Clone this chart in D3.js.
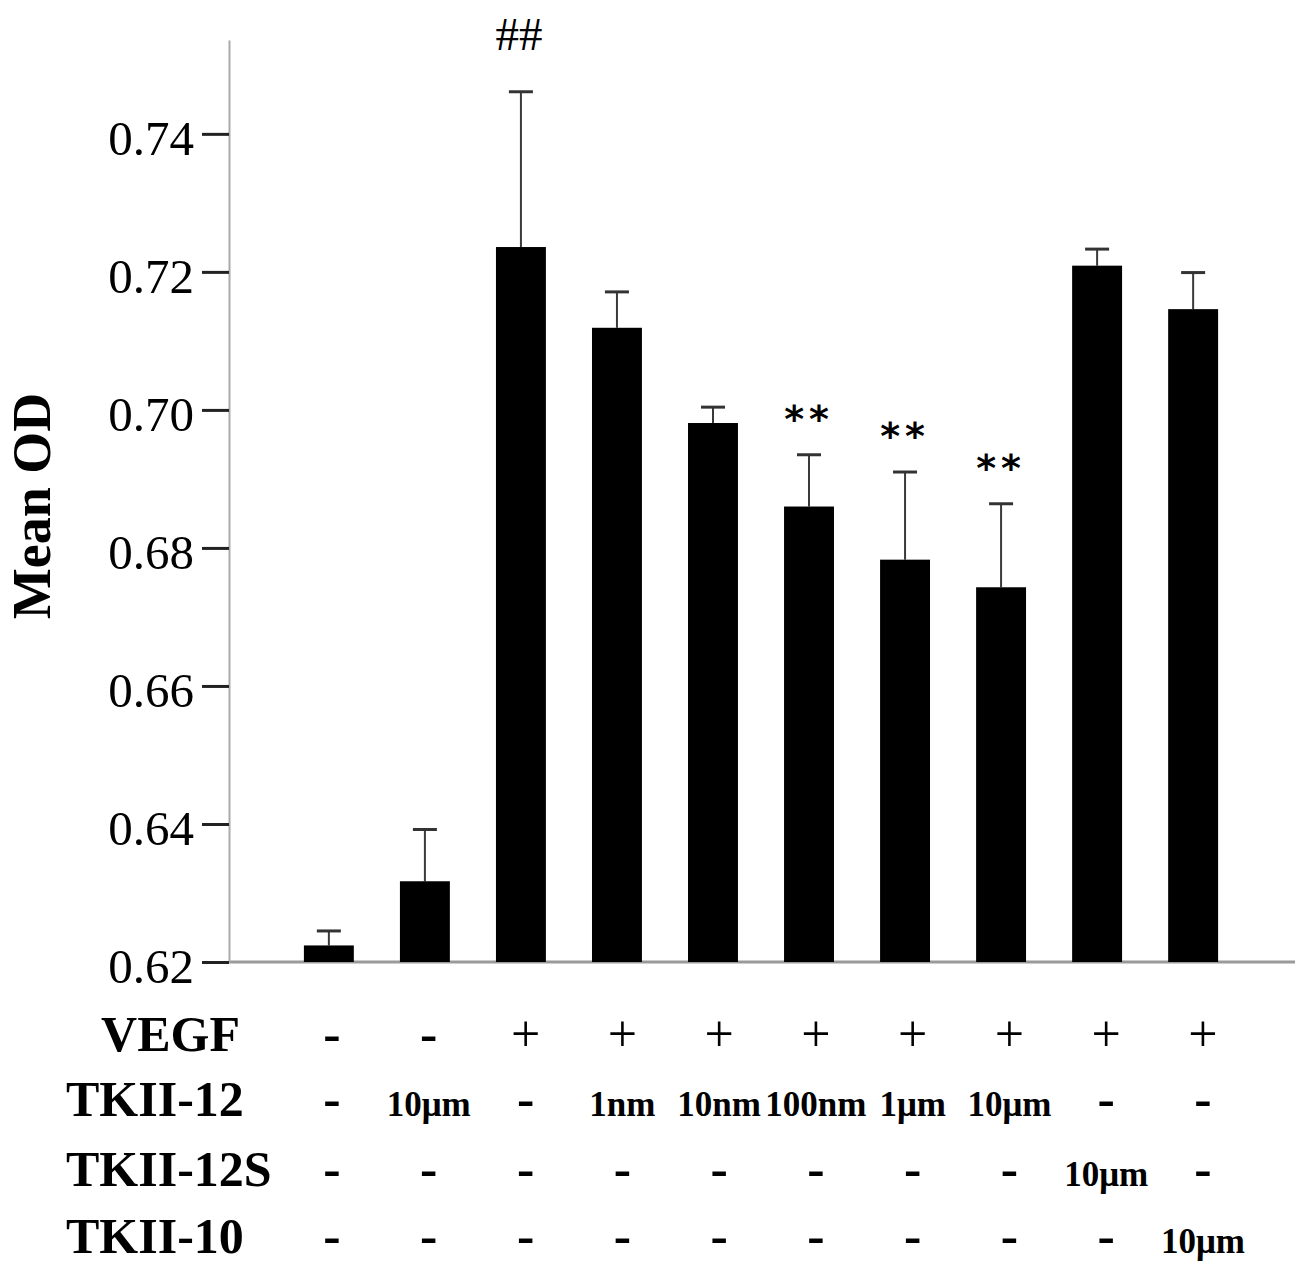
<!DOCTYPE html>
<html>
<head>
<meta charset="utf-8">
<script src="https://cdn.jsdelivr.net/npm/d3@7"></script>
<style>
body { margin: 0; background: #fff; }
svg { display: block; font-family: "Liberation Serif", "Times New Roman", serif; }
</style>
</head>
<body>
<svg width="1299" height="1265"></svg>
<script>
// groups, left to right
var groups = ["Control", "TKII-12 10μm", "VEGF", "VEGF+TKII-12 1nm", "VEGF+TKII-12 10nm",
  "VEGF+TKII-12 100nm", "VEGF+TKII-12 1μm", "VEGF+TKII-12 10μm", "VEGF+TKII-12S 10μm", "VEGF+TKII-10 10μm"];
var meanOD = [0.6224, 0.6317, 0.7236, 0.7119, 0.6981, 0.6860, 0.6783, 0.6743, 0.7209, 0.7146];
var errOD  = [0.0021, 0.0075, 0.0225, 0.0052, 0.0023, 0.0075, 0.0127, 0.0121, 0.0024, 0.0053];
var marks  = ["", "", "##", "", "", "**", "**", "**", "", ""];
var yTicks = [0.62, 0.64, 0.66, 0.68, 0.70, 0.72, 0.74];

// treatment table under the chart
var rowNames = ["VEGF", "TKII-12", "TKII-12S", "TKII-10"];
var vegf    = ["-", "-", "+", "+", "+", "+", "+", "+", "+", "+"];
var tkii12  = ["-", "10μm", "-", "1nm", "10nm", "100nm", "1μm", "10μm", "-", "-"];
var tkii12s = ["-", "-", "-", "-", "-", "-", "-", "-", "10μm", "-"];
var tkii10  = ["-", "-", "-", "-", "-", "-", "-", "-", "-", "10μm"];
var rows = [vegf, tkii12, tkii12s, tkii10];

var svg = d3.select('svg');
var axisX = 229, plotTop = 40, plotBase = 962;

var x = d3.scaleBand()
  .domain(groups)
  .range([axisX, 1293])
  .paddingInner(0.48)
  .paddingOuter(0.78);

var y = d3.scaleLinear()
  .domain([0.62, 0.7536])
  .range([plotBase, plotTop]);

// x axis line
svg.append('line')
  .attr('x1', axisX).attr('x2', 1295)
  .attr('y1', plotBase).attr('y2', plotBase)
  .attr('stroke', '#9a9a9a')
  .attr('stroke-width', 3);

// y axis
var yAxis = svg.append('g')
  .attr('transform', 'translate(' + axisX + ',0)')
  .call(d3.axisLeft(y).tickValues(yTicks).tickFormat(d3.format('.2f'))
    .tickSize(27).tickSizeOuter(0).tickPadding(8));
yAxis.select('.domain').attr('stroke', '#aaa').attr('stroke-width', 2);
yAxis.selectAll('.tick line').attr('stroke', '#222').attr('stroke-width', 3);
yAxis.selectAll('.tick text')
  .attr('font-size', 49)
  .attr('font-family', '"Liberation Serif", "Times New Roman", serif')
  .attr('fill', '#000')
  .attr('dy', '0.42em');

svg.append('text')
  .attr('transform', 'translate(50,506) rotate(-90)')
  .attr('text-anchor', 'middle')
  .attr('font-size', 54)
  .attr('font-weight', 'bold')
  .text('Mean OD');

// error bars
var cx = function(d, i) { return x(groups[i]) + x.bandwidth() / 2; };

svg.selectAll('.err').data(meanOD).enter().append('line')
  .attr('class', 'err')
  .attr('x1', cx).attr('x2', cx)
  .attr('y1', function(d) { return y(d); })
  .attr('y2', function(d, i) { return y(d + errOD[i]); })
  .attr('stroke', '#3a3a3a')
  .attr('stroke-width', 2);

svg.selectAll('.cap').data(meanOD).enter().append('line')
  .attr('class', 'cap')
  .attr('x1', function(d, i) { return cx(d, i) - 12; })
  .attr('x2', function(d, i) { return cx(d, i) + 12; })
  .attr('y1', function(d, i) { return y(d + errOD[i]); })
  .attr('y2', function(d, i) { return y(d + errOD[i]); })
  .attr('stroke', '#333')
  .attr('stroke-width', 3);

// bars
svg.selectAll('.bar').data(meanOD).enter().append('rect')
  .attr('class', 'bar')
  .attr('x', function(d, i) { return x(groups[i]); })
  .attr('y', function(d) { return y(d); })
  .attr('width', x.bandwidth())
  .attr('height', function(d) { return y(0.62) - y(d); })
  .attr('fill', '#000');

// significance marks
svg.selectAll('.mark').data(marks).enter().append('text')
  .attr('class', 'mark')
  .attr('x', function(d, i) { return cx(d, i) - (d == '##' ? 2 : 0); })
  .attr('y', function(d, i) {
    var t = y(meanOD[i] + errOD[i]);
    return d == '##' ? t - 42 : t - 23;
  })
  .attr('text-anchor', 'middle')
  .attr('font-family', function(d) { return d == '##' ? null : '"DejaVu Sans", sans-serif'; })
  .attr('font-size', function(d) { return d == '##' ? 47 : 38; })
  .attr('font-weight', function(d) { return d == '##' ? 'normal' : 'bold'; })
  .attr('letter-spacing', function(d) { return d == '##' ? 0 : 5; })
  .text(function(d) { return d; });

// treatment table
var colX = d3.scalePoint().domain(d3.range(10)).range([332, 1203]);
var rowY = [1051, 1116, 1186, 1253];

svg.selectAll('.rowname').data(rowNames).enter().append('text')
  .attr('class', 'rowname')
  .attr('x', function(d, i) { return i == 0 ? 240 : 66; })
  .attr('y', function(d, i) { return rowY[i]; })
  .attr('text-anchor', function(d, i) { return i == 0 ? 'end' : 'start'; })
  .attr('font-size', 50)
  .attr('font-weight', 'bold')
  .text(function(d) { return d; });

rows.forEach(function(row, r) {
  svg.selectAll('.cell' + r).data(row).enter().append('text')
    .attr('class', 'cell' + r)
    .attr('x', function(d, i) { return colX(i); })
    .attr('y', rowY[r])
    .attr('text-anchor', 'middle')
    .attr('font-size', function(d) { return d == '-' ? 52 : (d == '+' ? 52 : 35); })
    .attr('font-weight', function(d) { return d == '+' ? 'normal' : 'bold'; })
    .text(function(d) { return d; });
});
</script>
</body>
</html>
